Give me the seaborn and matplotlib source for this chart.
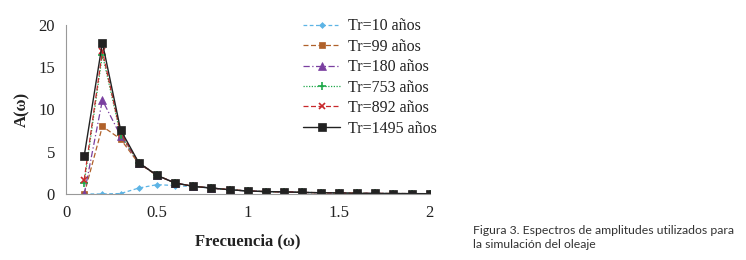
import matplotlib
matplotlib.use("Agg")
import matplotlib.pyplot as plt
import seaborn as sns
import pandas as pd

freq = [0.1, 0.2, 0.3, 0.4, 0.5, 0.6, 0.7, 0.8, 0.9, 1.0,
        1.1, 1.2, 1.3, 1.4, 1.5, 1.6, 1.7, 1.8, 1.9, 2.0]
tr10 = [0.0, 0.0, 0.05, 0.7, 1.1, 1.0, 0.85, 0.7, 0.5, 0.35,
        0.28, 0.25, 0.18, 0.15, 0.12, 0.08, 0.06, 0.05, 0.04, 0.03]
tr99 = [0.0, 8.0, 6.5, 3.6, 2.2, 1.3, 0.9, 0.7, 0.5, 0.35,
        0.28, 0.25, 0.18, 0.15, 0.12, 0.08, 0.06, 0.05, 0.04, 0.03]
tr180 = [0.0, 11.1, 6.9, 3.7, 2.2, 1.3, 0.9, 0.7, 0.5, 0.35,
         0.28, 0.25, 0.18, 0.15, 0.12, 0.08, 0.06, 0.05, 0.04, 0.03]
tr753 = [1.3, 16.5, 7.0, 3.7, 2.2, 1.3, 0.9, 0.7, 0.5, 0.35,
         0.28, 0.25, 0.18, 0.15, 0.12, 0.08, 0.06, 0.05, 0.04, 0.03]
tr892 = [1.7, 16.9, 7.2, 3.7, 2.2, 1.3, 0.9, 0.7, 0.5, 0.35,
         0.28, 0.25, 0.18, 0.15, 0.12, 0.08, 0.06, 0.05, 0.04, 0.03]
tr1495 = [4.5, 17.9, 7.6, 3.7, 2.2, 1.3, 0.9, 0.7, 0.5, 0.35,
          0.28, 0.25, 0.18, 0.15, 0.12, 0.08, 0.06, 0.05, 0.04, 0.03]
labels = ["Tr=10 años", "Tr=99 años", "Tr=180 años",
          "Tr=753 años", "Tr=892 años", "Tr=1495 años"]
series = [tr10, tr99, tr180, tr753, tr892, tr1495]
xticks = [0, 0.5, 1, 1.5, 2]
yticks = [0, 5, 10, 15, 20]

styles = [
    dict(color="#5DB4E5", ls=(0, (3, 2)), marker="D", ms=3, lw=0.9),
    dict(color="#B0612A", ls=(0, (4, 2)), marker="s", ms=5, lw=0.9),
    dict(color="#7A3FA0", ls=(0, (5, 2, 1, 2)), marker="^", ms=5.5, lw=0.9),
    dict(color="#1FA84A", ls=(0, (1, 1.2)), marker="+", ms=6, lw=0.9, mew=1.2),
    dict(color="#C8282B", ls=(0, (4, 2)), marker="x", ms=4.5, lw=0.9, mew=1.2),
    dict(color="#222222", ls="-", marker="s", ms=5.5, lw=1.0),
]

sns.set_theme(style="white")
plt.rcParams["font.family"] = ["Liberation Serif", "DejaVu Serif"]

fig = plt.figure(figsize=(7.46, 2.6), dpi=100)
ax = fig.add_axes([0.0885, 0.254, 0.4875, 0.65])

for lab, vals, st in zip(labels, series, styles):
    df = pd.DataFrame({"f": freq, "A": vals})
    sns.lineplot(data=df, x="f", y="A", ax=ax, label=lab,
                 color=st["color"], linestyle=st["ls"], linewidth=st["lw"],
                 marker=st["marker"], markersize=st["ms"],
                 markeredgewidth=st.get("mew", 0.5),
                 markeredgecolor=st["color"])

ax.set_xlim(0, 2)
ax.set_ylim(0, 20)
ax.set_xticks(xticks)
ax.set_xticklabels(["0", "0.5", "1", "1.5", "2"])
ax.set_yticks(yticks)
ax.tick_params(axis="both", labelsize=12, colors="#222222", length=0, pad=8)
for s in ["top", "right"]:
    ax.spines[s].set_visible(False)
for s in ["left", "bottom"]:
    ax.spines[s].set_color("#999999")
    ax.spines[s].set_linewidth(0.8)
ax.set_xlabel("Frecuencia (ω)", fontsize=12, fontweight="bold", color="#222222", labelpad=9)
ax.set_ylabel("A(ω)", fontsize=12, fontweight="bold", color="#222222", labelpad=6)

leg = ax.legend(loc="upper left", bbox_to_anchor=(0.635, 1.078), frameon=False,
                fontsize=11.5, handlelength=2.3, handletextpad=0.5,
                labelspacing=0.28, borderaxespad=0)
for t in leg.get_texts():
    t.set_color("#222222")

fig.text(0.634, 0.04, "Figura 3. Espectros de amplitudes utilizados para\nla simulación del oleaje",
         fontsize=8.8, color="#333333", family=["Lato", "DejaVu Sans"],
         va="bottom", ha="left", linespacing=1.3)

fig.savefig("out.png", dpi=100, facecolor="white")
